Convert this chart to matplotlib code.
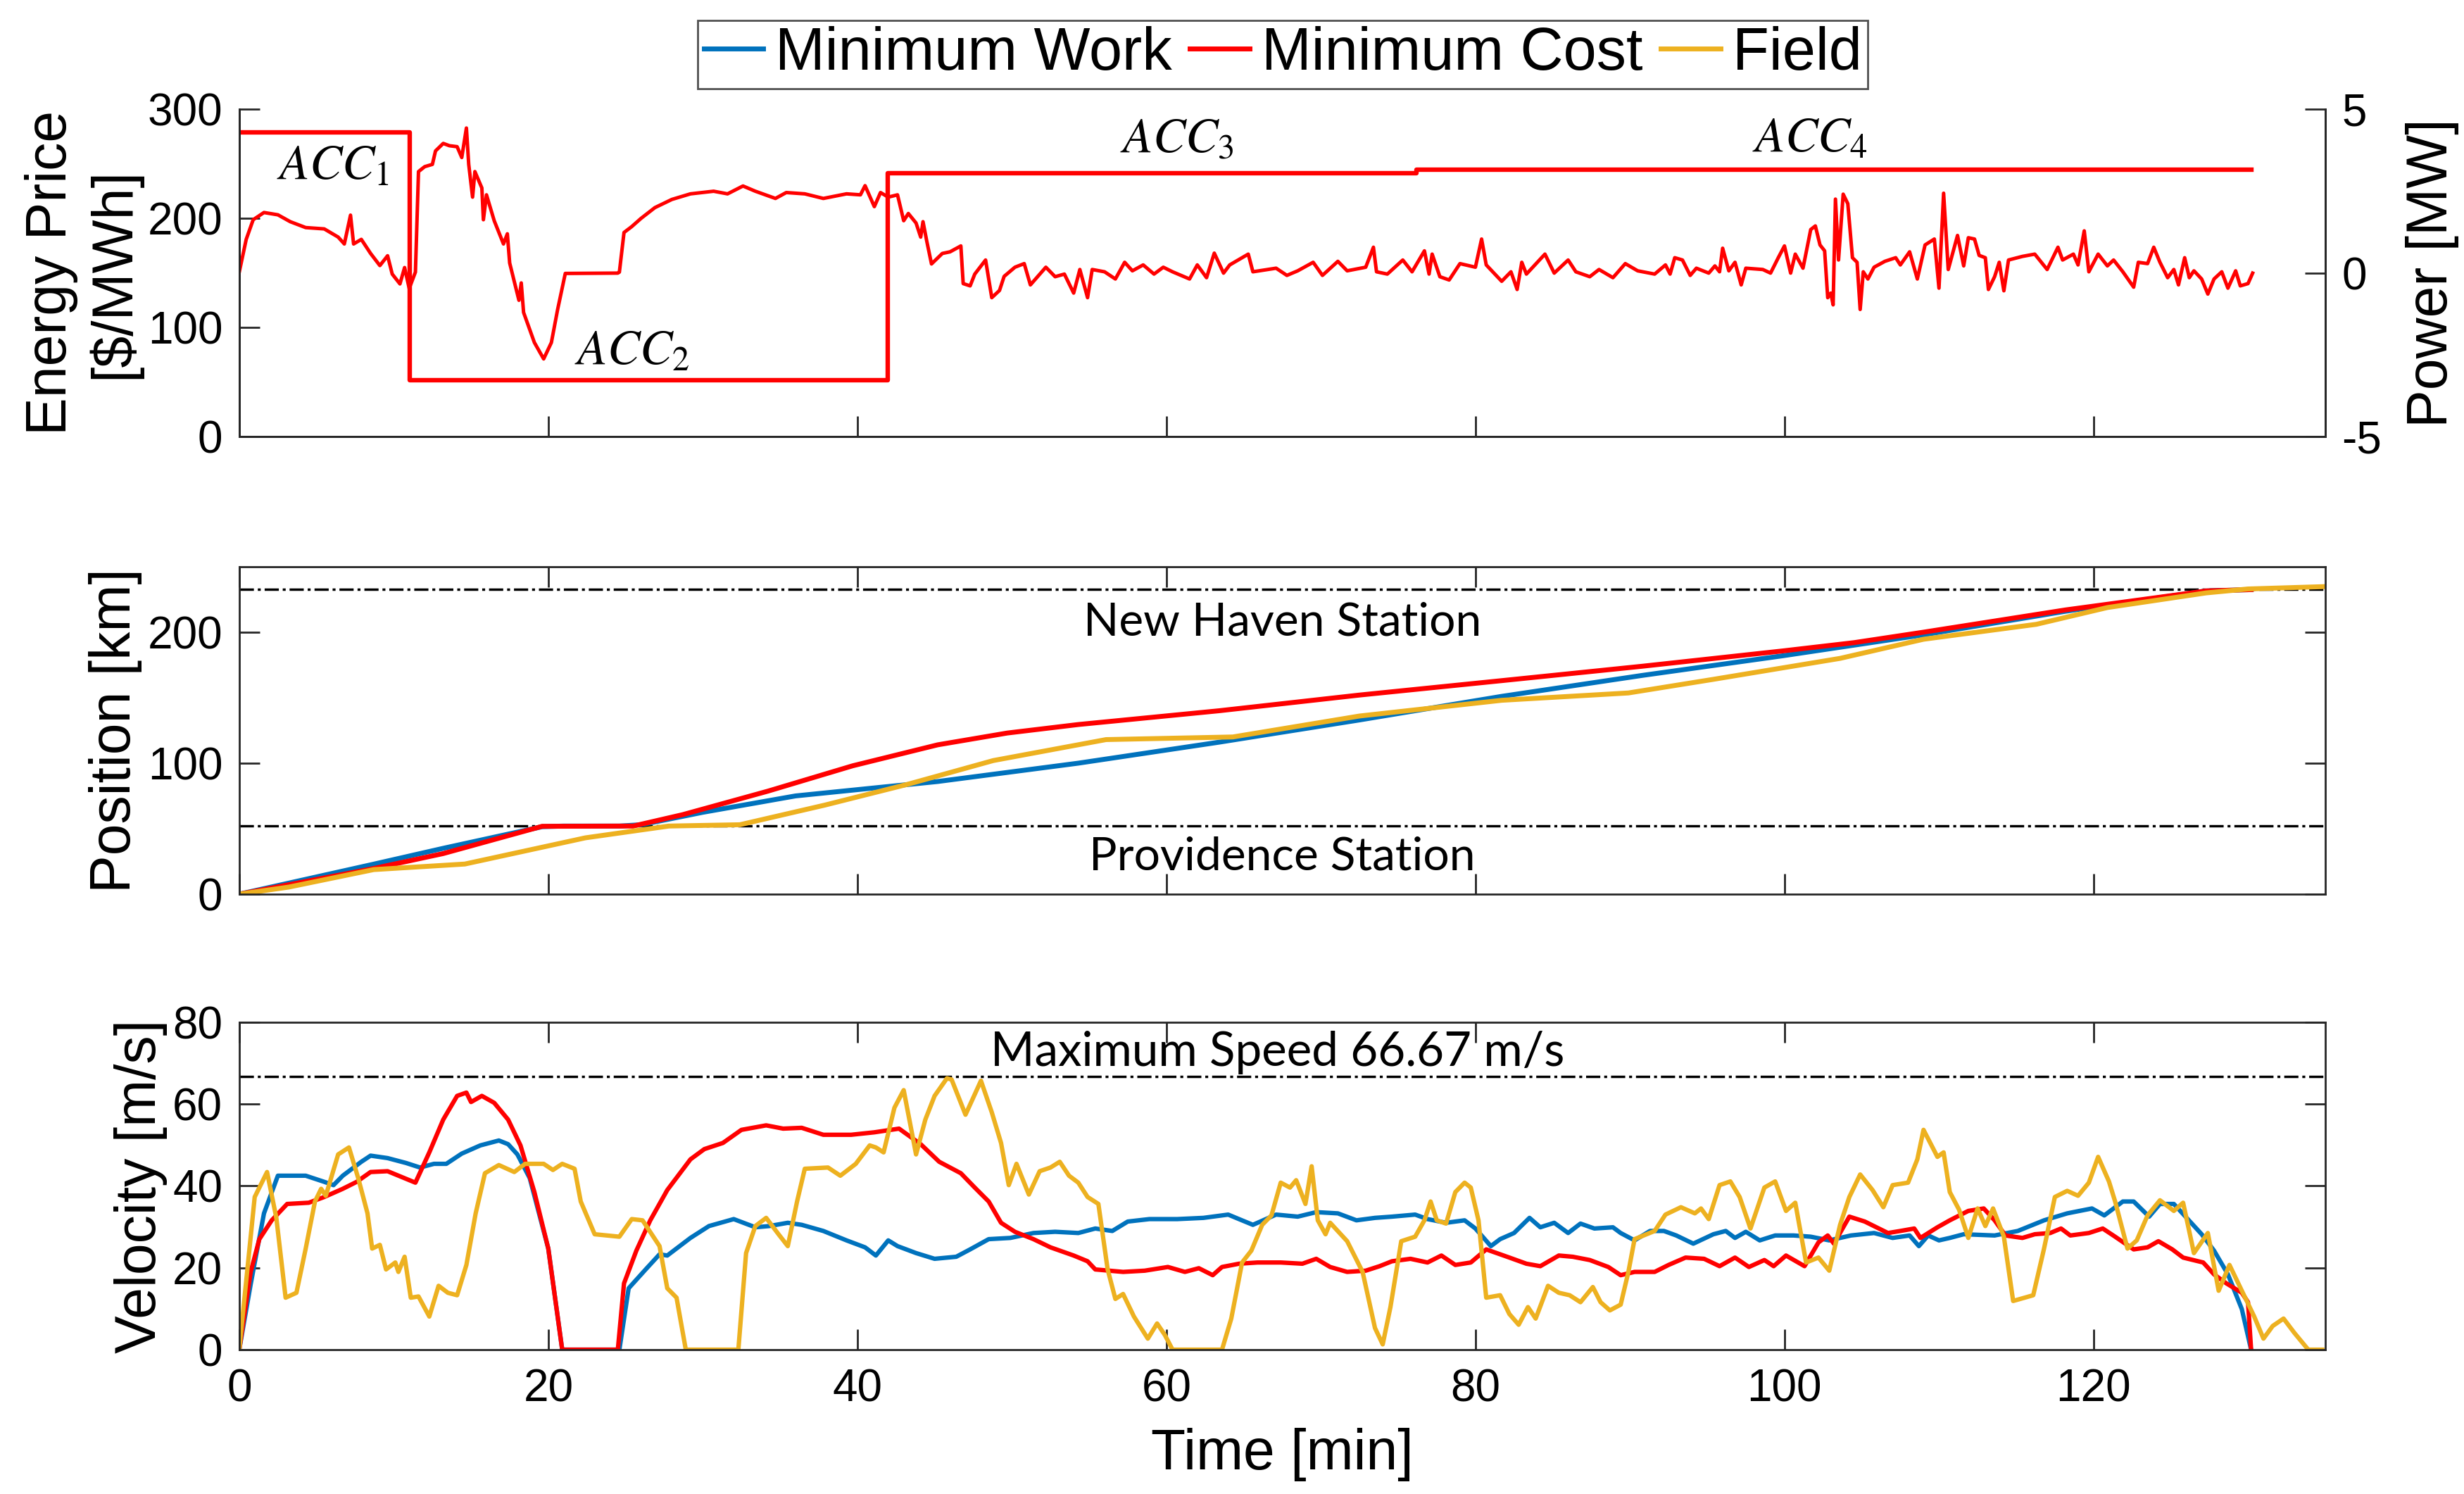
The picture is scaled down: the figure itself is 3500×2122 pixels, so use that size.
import matplotlib
matplotlib.use('Agg')
import matplotlib.pyplot as plt

plt.rcParams['font.family'] = ['Liberation Sans', 'DejaVu Sans']
plt.rcParams['mathtext.fontset'] = 'stix'
plt.rcParams['axes.unicode_minus'] = False

# ---------------- data ----------------
series_names = ['Minimum Work', 'Minimum Cost', 'Field']
colors = ['#0072BD', '#FF0000', '#EDB120']

# energy price step function ($/MWh), value holds from each time to the next
price_time = [0.0, 11.05, 41.96, 76.2, 130.2]
price_value = [279.0, 52.0, 241.5, 245.0, 245.0]

# minimum cost power (MW): (time min, power MW)
power_mw = [
    (0.0, 0.03), (0.45, 1.03), (0.9, 1.63), (1.6, 1.85), (2.5, 1.78), (3.3, 1.57), (4.3, 1.39),
    (5.5, 1.35), (6.4, 1.10), (6.8, 0.89), (7.2, 1.77), (7.4, 0.89), (7.9, 1.03), (8.5, 0.60),
    (9.1, 0.23), (9.6, 0.53), (9.9, -0.03), (10.4, -0.33), (10.7, 0.17), (11.0, -0.47), (11.4, 0.03),
    (11.6, 3.10), (12.0, 3.25), (12.5, 3.32), (12.7, 3.73), (13.2, 3.96), (13.6, 3.89), (14.1, 3.86),
    (14.4, 3.53), (14.7, 4.43), (14.85, 3.32), (15.1, 2.32), (15.25, 3.10), (15.7, 2.60), (15.8, 1.63),
    (16.0, 2.39), (16.5, 1.60), (17.1, 0.89), (17.35, 1.20), (17.5, 0.31), (18.1, -0.83), (18.25, -0.30),
    (18.4, -1.20), (19.1, -2.12), (19.7, -2.62), (20.2, -2.12), (20.6, -1.12), (21.1, -0.01), (24.5, 0.0),
    (24.6, 0.03), (24.9, 1.24), (25.4, 1.42), (26.0, 1.67), (26.9, 2.00), (28.0, 2.25), (29.2, 2.42),
    (30.7, 2.50), (31.6, 2.42), (32.6, 2.66), (33.4, 2.50), (34.7, 2.28), (35.4, 2.46), (36.6, 2.42),
    (37.8, 2.28), (39.3, 2.42), (40.2, 2.39), (40.5, 2.67), (41.1, 2.03), (41.5, 2.46), (42.0, 2.32),
    (42.6, 2.39), (43.0, 1.60), (43.3, 1.82), (43.8, 1.53), (44.1, 1.10), (44.25, 1.57), (44.5, 0.96),
    (44.8, 0.28), (45.5, 0.60), (46.0, 0.65), (46.7, 0.83), (46.85, -0.32), (47.3, -0.39), (47.6, -0.03),
    (48.3, 0.40), (48.7, -0.75), (49.2, -0.53), (49.5, -0.10), (50.2, 0.18), (50.8, 0.29), (51.2, -0.36),
    (52.2, 0.18), (52.8, -0.11), (53.4, -0.03), (54.0, -0.61), (54.4, 0.11), (54.9, -0.75), (55.2, 0.11),
    (56.0, 0.04), (56.7, -0.18), (57.3, 0.33), (57.8, 0.07), (58.5, 0.25), (59.2, -0.03), (59.8, 0.18),
    (60.4, 0.04), (61.5, -0.18), (62.0, 0.25), (62.6, -0.14), (63.1, 0.61), (63.7, 0.00), (64.1, 0.25),
    (65.3, 0.58), (65.6, 0.04), (67.1, 0.15), (67.8, -0.07), (68.5, 0.07), (69.5, 0.33), (70.1, -0.07),
    (71.1, 0.36), (71.7, 0.07), (72.9, 0.18), (73.4, 0.79), (73.6, 0.04), (74.3, -0.03), (75.3, 0.40),
    (75.9, 0.04), (76.7, 0.68), (77.0, -0.03), (77.2, 0.58), (77.7, -0.11), (78.3, -0.21), (79.0, 0.29),
    (80.0, 0.18), (80.4, 1.04), (80.7, 0.25), (81.7, -0.25), (82.3, 0.04), (82.7, -0.50), (83.0, 0.33),
    (83.3, -0.03), (84.5, 0.58), (85.1, 0.00), (86.0, 0.40), (86.5, 0.04), (87.4, -0.11), (88.0, 0.11),
    (88.9, -0.14), (89.7, 0.29), (90.5, 0.07), (91.6, -0.03), (92.3, 0.25), (92.6, -0.03), (92.9, 0.47),
    (93.4, 0.40), (93.9, -0.07), (94.3, 0.15), (95.1, 0.00), (95.5, 0.22), (95.8, 0.04), (96.0, 0.76),
    (96.4, 0.07), (96.8, 0.33), (97.2, -0.36), (97.5, 0.15), (98.6, 0.11), (99.1, 0.00), (99.6, 0.47),
    (100.0, 0.83), (100.4, 0.00), (100.7, 0.58), (101.2, 0.15), (101.7, 1.33), (102.0, 1.44), (102.3, 0.86),
    (102.6, 0.68), (102.8, -0.75), (103.0, -0.61), (103.15, -0.97), (103.3, 2.26), (103.5, 0.40),
    (103.8, 2.41), (104.1, 2.12), (104.4, 0.47), (104.7, 0.33), (104.9, -1.11), (105.1, 0.04),
    (105.4, -0.18), (105.8, 0.18), (106.5, 0.36), (107.2, 0.47), (107.5, 0.25), (108.1, 0.65),
    (108.6, -0.18), (109.1, 0.86), (109.7, 1.04), (110.0, -0.46), (110.3, 2.44), (110.6, 0.11),
    (111.2, 1.15), (111.6, 0.22), (111.9, 1.08), (112.3, 1.04), (112.6, 0.54), (113.0, 0.47),
    (113.2, -0.50), (113.6, -0.11), (113.9, 0.33), (114.2, -0.54), (114.5, 0.40), (115.4, 0.51),
    (116.2, 0.58), (117.0, 0.11), (117.7, 0.79), (118.0, 0.40), (118.7, 0.58), (119.0, 0.25),
    (119.4, 1.29), (119.7, 0.04), (120.3, 0.58), (120.9, 0.22), (121.3, 0.40), (121.9, 0.04),
    (122.6, -0.43), (122.9, 0.33), (123.5, 0.29), (123.9, 0.79), (124.3, 0.33), (124.8, -0.14),
    (125.2, 0.11), (125.5, -0.36), (125.9, 0.47), (126.2, -0.14), (126.5, 0.07), (127.0, -0.18),
    (127.4, -0.64), (127.8, -0.18), (128.3, 0.04), (128.7, -0.46), (129.2, 0.07), (129.5, -0.39),
    (130.0, -0.32), (130.3, 0.00),
]

# position (km): (time min, km)
position_work = [
    (0, 0), (8.7, 22.9), (13.2, 35), (19.6, 51.5), (21, 52), (24.6, 52), (26, 53), (30, 62.5),
    (36, 75), (45.2, 86), (54.3, 100), (63.4, 116), (72.5, 133), (81.7, 151), (90.8, 167),
    (99.9, 182), (109, 198), (118.2, 216), (127.3, 231.5), (130.2, 232.5),
]
position_cost = [
    (0, 0), (8.7, 19.6), (13.2, 31), (19.6, 51.8), (25.5, 52), (28.7, 60.7), (34.2, 78.6),
    (39.7, 98), (45.2, 114), (49.7, 123), (54.3, 129.5), (63.4, 140), (72.5, 152), (81.7, 163),
    (90.8, 174), (99.9, 185.7), (104.5, 192), (109, 200), (118.2, 217), (127.3, 231.5), (130.2, 232.5),
]
position_field = [
    (0, 0), (3.2, 5.4), (8.7, 18.75), (14.6, 23), (22.4, 43), (27.8, 52), (32.4, 53), (37.9, 68),
    (43.3, 84), (48.8, 102), (56.1, 118), (64.3, 120), (72.5, 136), (81.7, 148), (89.9, 153.6),
    (95.4, 164), (103.6, 180), (109, 194.6), (116.3, 206), (120.9, 218.8), (127.3, 230),
    (130, 233), (135, 234.8),
]

# velocity (m/s): (time min, m/s)
velocity_work = [
    (0, 0), (0.74, 16), (1.6, 33.3), (2.5, 42.5), (4.3, 42.5), (5.5, 41), (6.1, 40.2), (6.7, 42.5),
    (7.9, 45.9), (8.5, 47.4), (9.6, 46.8), (10.8, 45.6), (11.7, 44.5), (12.6, 45.4), (13.4, 45.4),
    (14.4, 47.9), (15.6, 49.9), (16.8, 51.1), (17.4, 50.2), (18.0, 47.7), (18.8, 41.9), (20.0, 24.7),
    (20.9, 0), (24.6, 0), (25.2, 15), (26.3, 19.6), (27.2, 23.3), (27.7, 23), (29.2, 27.3),
    (30.4, 30.2), (32.0, 31.9), (33.4, 29.9), (34.3, 30.2), (35.5, 31), (36.4, 30.5), (37.8, 29),
    (39.3, 26.7), (40.5, 25), (41.2, 23), (42.0, 26.7), (42.6, 25.3), (43.8, 23.6), (45.0, 22.2),
    (46.4, 22.7), (47.3, 24.5), (48.5, 27), (49.9, 27.3), (51.4, 28.5), (52.8, 28.8), (54.3, 28.5),
    (55.4, 29.6), (56.5, 29), (57.5, 31.3), (58.9, 31.9), (60.7, 31.9), (62.4, 32.2), (64.0, 33),
    (64.7, 31.9), (65.6, 30.5), (67.1, 33), (68.5, 32.5), (69.7, 33.6), (71.1, 33.3), (72.3, 31.6),
    (73.5, 32.2), (74.6, 32.5), (76.1, 33), (76.9, 31.9), (78.1, 31), (79.3, 31.6), (80.0, 29.6),
    (81.0, 25.3), (81.6, 27), (82.5, 28.5), (83.5, 32.2), (84.2, 29.9), (85.1, 31), (86.0, 28.5),
    (86.8, 30.8), (87.7, 29.6), (88.9, 29.9), (89.4, 28.5), (90.3, 26.7), (91.3, 29), (92.2, 29),
    (93.0, 27.9), (94.1, 25.9), (95.4, 28.2), (96.2, 29), (96.8, 27.3), (97.5, 28.8), (98.4, 26.7),
    (99.4, 27.9), (100.6, 27.9), (101.7, 27.6), (102.9, 26.7), (104.3, 27.9), (105.8, 28.5),
    (107.0, 27.3), (108.1, 27.9), (108.7, 25.3), (109.3, 27.9), (110.0, 26.7), (110.7, 27.3),
    (111.6, 28.2), (113.6, 27.9), (115.1, 29), (116.8, 31.6), (118.3, 33.3), (119.1, 33.9),
    (119.9, 34.5), (120.7, 32.8), (121.9, 36.2), (122.6, 36.2), (123.6, 32.5), (124.3, 35.6),
    (125.2, 35.6), (126.1, 31.9), (127.0, 28.2), (127.8, 24.2), (128.7, 18.4), (129.6, 9.9), (130.2, 0),
]
velocity_cost = [
    (0, 0), (0.74, 19), (1.3, 27), (2.1, 31.6), (3.1, 35.6), (4.5, 35.9), (5.5, 37.3), (6.7, 39.3),
    (7.6, 41), (8.5, 43.4), (9.6, 43.6), (10.5, 42.2), (11.4, 40.8), (12.3, 48.2), (13.2, 56.2),
    (14.1, 62), (14.7, 62.8), (15.0, 60.5), (15.7, 62), (16.5, 60.3), (17.4, 56.2), (18.2, 49.9),
    (19.1, 38.5), (20.0, 24.7), (20.9, 0), (24.5, 0), (24.9, 16.2), (25.7, 24.2), (26.6, 31.6),
    (27.7, 39), (29.2, 46.5), (30.1, 49), (31.3, 50.5), (32.5, 53.7), (34.1, 54.8), (35.2, 54),
    (36.4, 54.2), (37.8, 52.5), (39.6, 52.5), (41.1, 53.1), (42.7, 54), (44.1, 50.2), (45.3, 45.9),
    (46.7, 43.1), (47.6, 39.6), (48.5, 36.2), (49.3, 31), (50.2, 28.8), (51.4, 27), (52.5, 25),
    (54.0, 23), (54.9, 21.6), (55.4, 19.6), (57.2, 19), (58.6, 19.3), (60.1, 20.2), (61.2, 19),
    (62.1, 19.9), (63.0, 18.2), (63.6, 20.2), (64.7, 21), (65.9, 21.3), (67.4, 21.3), (68.8, 21),
    (69.7, 22.2), (70.6, 20.2), (71.7, 19), (72.9, 19.3), (73.8, 20.4), (74.6, 21.6), (75.8, 22.2),
    (76.9, 21.3), (77.8, 23), (78.7, 20.7), (79.7, 21.3), (80.7, 24.5), (82.2, 22.5), (83.3, 21),
    (84.2, 20.4), (85.4, 23), (86.3, 22.7), (87.4, 21.9), (88.6, 20.2), (89.4, 18.2), (90.3, 19),
    (91.6, 19), (92.5, 20.7), (93.6, 22.5), (94.8, 22.2), (95.8, 20.4), (96.8, 22.5), (97.7, 20.2),
    (98.7, 21.9), (99.3, 20.4), (100.1, 23), (101.3, 20.4), (102.2, 26.2), (102.8, 27.9),
    (103.2, 25.9), (104.2, 32.5), (105.2, 31.3), (106.7, 28.5), (107.5, 29), (108.4, 29.6),
    (108.8, 27.3), (109.9, 29.9), (110.7, 31.6), (111.9, 33.9), (112.9, 34.5), (113.6, 31.6),
    (114.3, 27.9), (115.4, 27.3), (116.2, 28.2), (117.2, 28.5), (117.9, 29.6), (118.5, 27.9),
    (119.7, 28.5), (120.6, 29.6), (121.4, 27.6), (122.6, 24.5), (123.5, 25), (124.2, 26.5),
    (125.1, 24.5), (125.8, 22.5), (127.1, 21.3), (127.8, 18.4), (128.6, 16.2), (129.6, 13.9),
    (130.0, 11.6), (130.2, 0),
]
velocity_field = [
    (0, 0), (1.0, 37.3), (1.8, 43.4), (2.4, 32.2), (3.0, 12.7), (3.7, 13.9), (4.3, 24.7), (4.9, 36.2),
    (5.3, 39.3), (5.6, 37.6), (6.4, 47.7), (7.1, 49.4), (7.7, 41.9), (8.3, 33.3), (8.6, 24.7),
    (9.1, 25.6), (9.5, 19.6), (10.1, 21.3), (10.3, 19), (10.7, 22.7), (11.1, 12.7), (11.6, 13),
    (12.3, 8.1), (12.9, 15.6), (13.5, 13.9), (14.1, 13.3), (14.7, 20.7), (15.3, 33.3), (15.9, 43.1),
    (16.8, 45.1), (17.8, 43.4), (18.5, 45.4), (19.7, 45.4), (20.3, 43.9), (20.9, 45.4), (21.7, 44.2),
    (22.1, 36.2), (23.0, 28.2), (24.6, 27.6), (25.4, 31.9), (26.1, 31.6), (27.2, 25.3), (27.7, 15),
    (28.3, 12.7), (28.9, 0), (32.3, 0), (32.8, 23.6), (33.4, 30.2), (34.1, 32.2), (34.9, 28.2),
    (35.5, 25.3), (36.1, 36.2), (36.6, 44.2), (38.1, 44.5), (38.9, 42.5), (39.9, 45.4), (40.8, 49.9),
    (41.2, 49.4), (41.7, 48.2), (42.4, 59.1), (43.0, 63.4), (43.8, 47.7), (44.4, 56.2), (45.0, 62),
    (45.8, 66.3), (46.1, 66), (47.0, 57.4), (48.0, 65.7), (48.7, 58), (49.3, 50.5), (49.8, 40.2),
    (50.3, 45.4), (51.1, 37.9), (51.8, 43.6), (52.5, 44.5), (53.1, 45.9), (53.7, 42.5), (54.3, 40.8),
    (54.9, 37.3), (55.6, 35.6), (56.2, 19.6), (56.7, 12.4), (57.2, 13.6), (57.9, 8.1), (58.8, 2.7),
    (59.4, 6.4), (59.9, 3.6), (60.4, 0), (63.6, 0), (64.2, 7.6), (64.9, 21.3), (65.5, 24.2),
    (66.2, 30.5), (66.8, 32.8), (67.4, 40.8), (68.0, 39.6), (68.4, 41.4), (69.0, 35.6), (69.4, 44.8),
    (69.8, 31.6), (70.3, 28.2), (70.6, 31), (71.7, 26.5), (72.7, 19), (73.5, 5.3), (74.0, 1.3),
    (74.5, 10.4), (75.2, 26.5), (76.1, 27.6), (76.7, 31.6), (77.1, 36.2), (77.5, 31.6), (78.1, 30.8),
    (78.7, 38.5), (79.3, 40.8), (79.7, 39.6), (80.2, 31.6), (80.7, 12.7), (81.6, 13.3), (82.2, 8.7),
    (82.8, 6.1), (83.4, 10.4), (83.9, 7.6), (84.7, 15.6), (85.4, 13.9), (86.1, 13.3), (86.8, 11.6),
    (87.6, 15.3), (88.1, 11.6), (88.7, 9.6), (89.4, 11), (89.9, 19), (90.3, 27), (91.6, 29),
    (92.3, 33), (93.3, 34.8), (94.2, 33.3), (94.6, 34.5), (95.1, 31.9), (95.8, 40.2), (96.5, 41.1),
    (97.1, 37.3), (97.8, 29.6), (98.7, 39.6), (99.4, 41.1), (100.1, 33.9), (100.7, 35.9),
    (101.4, 21.3), (102.2, 22.5), (102.9, 19.3), (103.6, 30.5), (104.2, 37.3), (104.9, 42.8),
    (105.7, 39), (106.4, 34.8), (107.0, 40.2), (108.0, 40.8), (108.6, 46.5), (109.0, 53.7),
    (109.9, 47.1), (110.3, 48.2), (110.7, 38.5), (111.3, 34.2), (111.9, 27.3), (112.5, 34.5),
    (113.0, 30.2), (113.5, 34.5), (114.2, 27.6), (114.8, 11.9), (116.1, 13.3), (116.8, 24.7),
    (117.5, 37.3), (118.3, 38.8), (119.0, 37.6), (119.7, 40.8), (120.3, 47.1), (121.0, 41.1),
    (121.4, 36.2), (122.2, 24.7), (122.8, 26.7), (123.5, 32.8), (124.3, 36.5), (125.2, 33.9),
    (125.8, 35.9), (126.5, 23.6), (127.4, 28.5), (128.1, 14.4), (128.8, 20.7), (129.7, 13.6),
    (130.4, 8.1), (131.0, 2.7), (131.6, 5.8), (132.3, 7.6), (133.0, 4.1), (133.9, 0), (134.8, 0),
]

# reference lines and annotations
station_km = [52.0, 232.5]
station_names = ['Providence Station', 'New Haven Station']
max_speed = 66.67
acc_labels = [r'$ACC_1$', r'$ACC_2$', r'$ACC_3$', r'$ACC_4$']
x_ticks = [0, 20, 40, 60, 80, 100, 120]

# ---------------- figure ----------------
fig = plt.figure(figsize=(35, 21.22), dpi=100)
L, W, H = 0.0971, 0.8466, 0.2192
ax1 = fig.add_axes([L, 0.7076, W, H])
ax2 = fig.add_axes([L, 0.4015, W, H])
ax3 = fig.add_axes([L, 0.0966, W, H])
ax1r = ax1.twinx()

AX_COL = '#262626'
TICK_KW = dict(direction='in', length=21, width=2, labelsize=46, colors=AX_COL, labelcolor='black')
DASHDOT = (0, (5.8, 1.6, 1.2, 1.6))


def unzip(pairs):
    return [p[0] for p in pairs], [p[1] for p in pairs]


def style(ax, box=True):
    ax.set_xlim(0, 135)
    ax.set_xticks(x_ticks)
    ax.tick_params(axis='y', pad=17, **TICK_KW)
    ax.tick_params(axis='x', pad=19, **TICK_KW)
    if box:
        ax.tick_params(top=True, right=True)
    for s in ax.spines.values():
        s.set_linewidth(2)
        s.set_color(AX_COL)


# --- top: price & power ---
ax1.plot(price_time, price_value, drawstyle='steps-post', color=colors[1], lw=4.6)
pt, pv = unzip(power_mw)
ax1r.plot(pt, pv, color=colors[1], lw=3.6)
style(ax1, box=False)
ax1.spines['top'].set_visible(False)
ax1r.spines['top'].set_visible(False)
ax1.set_ylim(0, 300)
ax1.set_yticks([0, 100, 200, 300])
ax1.tick_params(labelbottom=False)
ax1r.set_ylim(-5, 5)
ax1r.set_yticks([-5, 0, 5])
ax1r.tick_params(axis='y', pad=17, **TICK_KW)
for s in ax1r.spines.values():
    s.set_linewidth(2)
    s.set_color(AX_COL)
ax1.set_ylabel('Energy Price\n' + r'[\$/MWh]', fontsize=58, linespacing=1.2)
ax1.yaxis.set_label_coords(-0.047, 0.5)
ax1r.set_ylabel('Power [MW]', fontsize=58)
ax1r.yaxis.set_label_coords(1.0385, 0.5)

acc_pos = [(2.4, 236.2), (21.7, 66.1), (57.0, 261.0), (97.9, 261.0)]
for lab, (tx, ty) in zip(acc_labels, acc_pos):
    ax1.text(tx, ty, lab, fontsize=50, ha='left', va='baseline', color='black')

# --- middle: position ---
for pairs, c in zip([position_work, position_cost, position_field], colors):
    t, p = unzip(pairs)
    ax2.plot(t, p, color=c, lw=5)
for km in station_km:
    ax2.axhline(km, color='black', lw=2.5, linestyle=DASHDOT, zorder=1)
ax2.text(67.5, 197.3, station_names[1], family='Lato', fontsize=47.5, ha='center', va='baseline')
ax2.text(67.5, 18.8, station_names[0], family='Lato', fontsize=47.5, ha='center', va='baseline')
style(ax2)
ax2.set_ylim(0, 250)
ax2.set_yticks([0, 100, 200])
ax2.tick_params(labelbottom=False)
ax2.set_ylabel('Position [km]', fontsize=58)
ax2.yaxis.set_label_coords(-0.0466, 0.5)

# --- bottom: velocity ---
handles = []
for pairs, c, name in zip([velocity_work, velocity_cost, velocity_field], colors, series_names):
    t, v = unzip(pairs)
    h, = ax3.plot(t, v, color=c, lw=4.5, label=name)
    handles.append(h)
ax3.axhline(max_speed, color='black', lw=2.5, linestyle=DASHDOT, zorder=1)
ax3.text(67.2, 69.4, 'Maximum Speed 66.67 m/s', family='Lato', fontsize=48.5, ha='center', va='baseline')
style(ax3)
ax3.set_ylim(0, 80)
ax3.set_yticks([0, 20, 40, 60, 80])
ax3.set_ylabel('Velocity [m/s]', fontsize=58)
ax3.yaxis.set_label_coords(-0.0344, 0.5)
ax3.set_xlabel('Time [min]', fontsize=58, labelpad=18)

leg = fig.legend(handles=handles, labels=series_names, loc='center', bbox_to_anchor=(0.5206, 0.9637),
                 ncol=3, fontsize=61, frameon=True, fancybox=False, edgecolor=AX_COL,
                 handlelength=1.0, handletextpad=0.2, columnspacing=0.3, borderpad=0.1,
                 borderaxespad=0)
leg.get_frame().set_linewidth(2)
for h in leg.get_lines():
    h.set_linewidth(5)

fig.savefig('out.png', dpi=100, facecolor='white')
